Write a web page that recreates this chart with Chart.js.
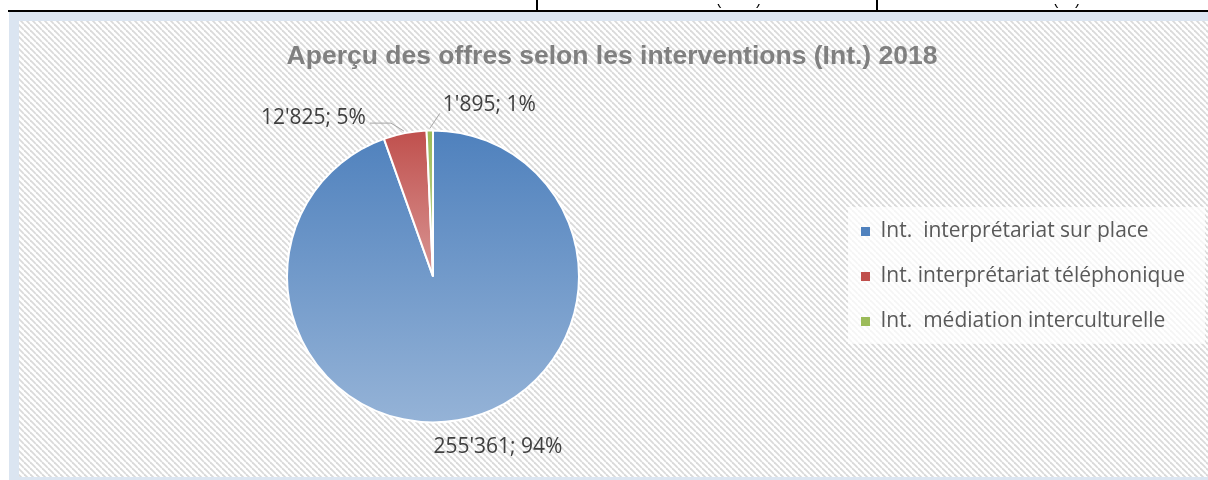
<!DOCTYPE html>
<html>

<head>
    <script src="https://cdn.jsdelivr.net/npm/chart.js"></script>
    <style>
        html,
        body {
            margin: 0px;
            padding: 0px;
            background: #fff;
        }

        .container {
            width: 1208px;
            height: 480px;
        }
    </style>
</head>

<body>
    <div class="container">
        <canvas id="myChart"></canvas>
    </div>

    <script>
        // data
        const categories = [
            'Int.  interprétariat sur place',
            'Int. interprétariat téléphonique',
            'Int.  médiation interculturelle'
        ];
        const values = [255361, 12825, 1895];
        const percentLabels = ['94%', '5%', '1%'];
        const chartTitle = 'Aperçu des offres selon les interventions (Int.) 2018';

        // styles
        const topColors = ['#4f81bd', '#c0504d', '#9bbb59'];
        const bottomColors = ['#95b3d7', '#d99694', '#c3d69b'];
        const pieRadius = 146;
        const legendFont = { family: "'Open Sans', sans-serif", size: 21 };
        const labelFont = "21px 'Open Sans', sans-serif";
        const legendPad = 24;
        const legendLeft = 837;

        // offsets of the data labels from the outer point of each slice
        const labelPlacement = [
            { dx: 40, dy: 27, align: 'center', leader: null },
            { dx: -39, dy: -15, align: 'right', leader: [[-1, -2], [-14, -10], [-35, -10]] },
            { dx: 13, dy: -25, align: 'left', leader: [[0, -2], [10, -17]] }
        ];

        function withSeparator(v) {
            return v.toString().replace(/\B(?=(\d{3})+(?!\d))/g, "'");
        }

        // right padding so that the legend starts at legendLeft (pie centre ends up at 433)
        const measureCtx = document.createElement('canvas').getContext('2d');
        measureCtx.font = legendFont.size + 'px ' + legendFont.family;
        const longest = Math.max(...categories.map(c => measureCtx.measureText(c).width));
        const rightPad = Math.max(0, 1208 - legendLeft - (legendPad + legendFont.size / 2 + 9 + longest + 10));

        // hatch pattern of the chart area
        const tile = document.createElement('canvas');
        tile.width = 6;
        tile.height = 6;
        const tctx = tile.getContext('2d');
        tctx.fillStyle = '#ffffff';
        tctx.fillRect(0, 0, 6, 6);
        tctx.strokeStyle = '#dadada';
        tctx.lineWidth = 1.8;
        [[0, 0, 6, 6], [-6, 0, 0, 6], [0, -6, 6, 0]].forEach(l => {
            tctx.beginPath();
            tctx.moveTo(l[0], l[1]);
            tctx.lineTo(l[2], l[3]);
            tctx.stroke();
        });

        function sliceGradient(context) {
            const i = context.dataIndex;
            const chart = context.chart;
            const area = chart.chartArea;
            if (!area || i === undefined) return topColors[i || 0];
            const cx = (area.left + area.right) / 2;
            const cy = (area.top + area.bottom) / 2;
            const total = values.reduce((a, b) => a + b, 0);
            let before = 0;
            for (let k = 0; k < i; k++) before += values[k];
            const a0 = -Math.PI / 2 + 2 * Math.PI * before / total;
            const a1 = a0 + 2 * Math.PI * values[i] / total;
            let ys = [cy, cy + pieRadius * Math.sin(a0), cy + pieRadius * Math.sin(a1)];
            [-Math.PI / 2, Math.PI / 2, 3 * Math.PI / 2].forEach(a => {
                if (a >= a0 && a <= a1) ys.push(cy + pieRadius * Math.sin(a));
            });
            const y0 = Math.min(...ys);
            const y1 = Math.max(...ys);
            const g = chart.ctx.createLinearGradient(0, y0, 0, y1 + 1);
            g.addColorStop(0, topColors[i]);
            g.addColorStop(1, bottomColors[i]);
            return g;
        }

        const backgroundPlugin = {
            id: 'background',
            beforeDraw(chart) {
                const ctx = chart.ctx;
                ctx.save();
                ctx.fillStyle = '#ffffff';
                ctx.fillRect(0, 0, 1208, 480);
                // bit of the table above the chart
                ctx.fillStyle = '#000000';
                ctx.fillRect(8, 10, 1200, 2);
                ctx.fillRect(536, 0, 2, 11);
                ctx.fillRect(876, 0, 2, 11);
                ctx.save();
                ctx.beginPath();
                ctx.rect(0, 4, 1208, 6);
                ctx.clip();
                ctx.font = "16px 'Liberation Sans', sans-serif";
                ctx.textBaseline = 'alphabetic';
                ctx.fillText('(', 716, 5);
                ctx.fillText(')', 756, 5);
                ctx.fillText('(', 1053, 5);
                ctx.fillText(')', 1075, 5);
                ctx.restore();
                // frame
                ctx.fillStyle = '#dbe5f1';
                ctx.fillRect(9, 12, 1199, 468);
                ctx.fillStyle = ctx.createPattern(tile, 'repeat');
                ctx.fillRect(19, 21, 1189, 456);
                // legend box
                const lg = chart.legend;
                if (lg && lg.legendHitBoxes && lg.legendHitBoxes.length) {
                    const hb = lg.legendHitBoxes;
                    const top = hb[0].top - 14;
                    const bottom = hb[hb.length - 1].top + hb[hb.length - 1].height + 12;
                    ctx.fillStyle = 'rgba(255,255,255,0.72)';
                    ctx.fillRect(848, top, 1205 - 848, bottom - top);
                }
                ctx.restore();
            }
        };

        const dataLabelPlugin = {
            id: 'dataLabels',
            afterDatasetsDraw(chart) {
                const ctx = chart.ctx;
                const meta = chart.getDatasetMeta(0);
                ctx.save();
                meta.data.forEach((arc, i) => {
                    const p = arc.getProps(['x', 'y', 'startAngle', 'endAngle', 'outerRadius'], true);
                    const mid = (p.startAngle + p.endAngle) / 2;
                    const ax = p.x + p.outerRadius * Math.cos(mid);
                    const ay = p.y + p.outerRadius * Math.sin(mid);
                    const place = labelPlacement[i];
                    if (place.leader) {
                        ctx.strokeStyle = '#a6a6a6';
                        ctx.lineWidth = 1;
                        ctx.beginPath();
                        place.leader.forEach((pt, k) => {
                            if (k === 0) ctx.moveTo(ax + pt[0], ay + pt[1]);
                            else ctx.lineTo(ax + pt[0], ay + pt[1]);
                        });
                        ctx.stroke();
                    }
                    ctx.font = labelFont;
                    ctx.fillStyle = '#404040';
                    ctx.textAlign = place.align;
                    ctx.textBaseline = 'middle';
                    ctx.fillText(withSeparator(values[i]) + '; ' + percentLabels[i], ax + place.dx, ay + place.dy);
                });
                ctx.restore();
            }
        };

        var context = document.getElementById('myChart').getContext('2d');
        var chart = new Chart(context, {
            type: 'pie',
            data: {
                labels: categories,
                datasets: [{
                    data: values,
                    backgroundColor: sliceGradient,
                    borderColor: '#ffffff',
                    borderWidth: 2,
                    hoverOffset: 0,
                    radius: pieRadius
                }]
            },
            options: {
                responsive: true,
                maintainAspectRatio: false,
                animation: false,
                events: [],
                layout: {
                    padding: { left: 29, right: rightPad, top: 31, bottom: 10 }
                },
                plugins: {
                    title: {
                        display: true,
                        text: chartTitle,
                        color: '#808080',
                        font: { family: "'Liberation Sans', Arial, sans-serif", size: 26.5, weight: 'bold' },
                        padding: { top: 10, bottom: 10 }
                    },
                    legend: {
                        position: 'right',
                        fullSize: false,
                        labels: {
                            boxWidth: 9,
                            boxHeight: 9,
                            padding: legendPad,
                            color: '#595959',
                            font: legendFont,
                            generateLabels: function (chart) {
                                const items = Chart.overrides.pie.plugins.legend.labels.generateLabels(chart);
                                items.forEach((it, i) => {
                                    it.fillStyle = topColors[i];
                                    it.strokeStyle = topColors[i];
                                    it.lineWidth = 0;
                                });
                                return items;
                            }
                        }
                    },
                    tooltip: { enabled: false }
                }
            },
            plugins: [backgroundPlugin, dataLabelPlugin]
        });
    </script>
</body>

</html>
